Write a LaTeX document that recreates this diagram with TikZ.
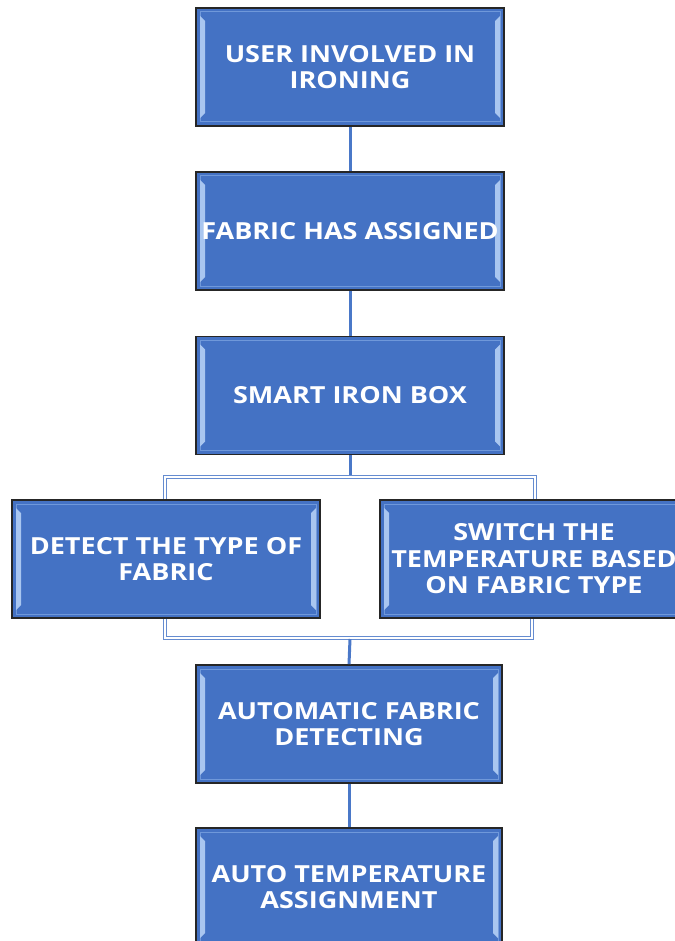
\documentclass[tikz,border=0pt]{standalone}
\usepackage{fontspec}
\setmainfont{Open Sans}
\newfontfamily\boxfont[FakeStretch=1.15]{Open Sans}
\definecolor{boxblue}{HTML}{4472C4}
\definecolor{bevlight}{HTML}{A9C6F0}
\definecolor{bevmid}{HTML}{6F98DA}
\definecolor{linkblue}{HTML}{4A78C8}
\begin{document}
\begin{tikzpicture}[x=1pt,y=-1pt,
  flowbox/.style={draw=black!85,line width=1.6pt,fill=boxblue,minimum width=308pt,minimum height=118pt,
    inner sep=0pt,align=center,text=white,font=\boxfont\fontsize{23.5}{26.5}\selectfont\bfseries,
    path picture={
      \draw[bevmid,line width=1pt] ([xshift=4pt,yshift=-4pt]path picture bounding box.north west) rectangle ([xshift=-4pt,yshift=4pt]path picture bounding box.south east);
      \fill[bevlight] ([xshift=4pt,yshift=-8pt]path picture bounding box.north west) -- ([xshift=9pt,yshift=-13pt]path picture bounding box.north west) -- ([xshift=9pt,yshift=13pt]path picture bounding box.south west) -- ([xshift=4pt,yshift=8pt]path picture bounding box.south west) -- cycle;
      \fill[bevlight] ([xshift=-4pt,yshift=-8pt]path picture bounding box.north east) -- ([xshift=-9pt,yshift=-13pt]path picture bounding box.north east) -- ([xshift=-9pt,yshift=13pt]path picture bounding box.south east) -- ([xshift=-4pt,yshift=8pt]path picture bounding box.south east) -- cycle;
    }},
  link/.style={draw=linkblue,line width=3pt},
  hlink/.style={draw=linkblue!85,line width=1.2pt,double=white,double distance=1.2pt}]
\useasboundingbox (0,0) rectangle (674,941);
\node[flowbox] (b1) at (350,67) {USER INVOLVED IN\\IRONING};
\node[flowbox] (b2) at (350,231) {FABRIC HAS ASSIGNED};
\node[flowbox] (b3) at (350,395.5) {SMART IRON BOX};
\node[flowbox] (b4) at (166,559) {DETECT THE TYPE OF\\FABRIC};
\node[flowbox] (b5) at (534,559) {SWITCH THE\\TEMPERATURE BASED\\ON FABRIC TYPE};
\node[flowbox,minimum width=306pt] (b6) at (349,724) {AUTOMATIC FABRIC\\DETECTING};
\node[flowbox,minimum width=306pt] (b7) at (349,887) {AUTO TEMPERATURE\\ASSIGNMENT};
\coordinate (s3) at (350,477);
\coordinate (sl) at (165,477);
\coordinate (sr) at (535,477);
\coordinate (jl) at (165,638);
\coordinate (jr) at (532,638);
\coordinate (jc) at (350,638);
\draw[link] (b1.south) -- (b2.north);
\draw[link] (b2.south) -- (b3.north);
\draw[link] (b3.south) -- (s3);
\draw[hlink] (sl |- b4.north) -- (sl) -- (sr) -- (sr |- b5.north);
\draw[hlink] (jl |- b4.south) -- (jl) -- (jr) -- (jr |- b5.south);
\draw[link] ([yshift=-1pt]jc) -- (b6.north);
\draw[link] (b6.south) -- (b7.north);
\end{tikzpicture}
\end{document}
